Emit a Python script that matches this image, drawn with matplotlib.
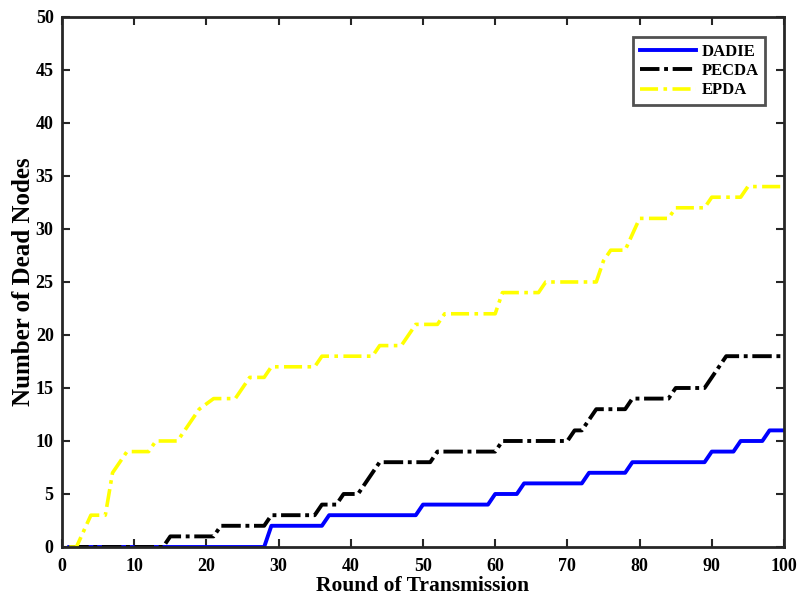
import matplotlib.pyplot as plt  # For plotting graph

# Corner points of each curve (round, dead nodes)
dadie_x = [1, 28, 29, 36, 37, 49, 50, 59, 60, 63, 64, 72, 73, 78, 79, 89, 90, 93, 94, 97, 98, 100]
dadie_y = [0, 0, 2, 2, 3, 3, 4, 4, 5, 5, 6, 6, 7, 7, 8, 8, 9, 9, 10, 10, 11, 11]

pecda_x = [1, 14, 15, 21, 22, 28, 29, 35, 36, 38, 39, 41, 44, 51, 52, 60, 61, 70, 71, 72, 74, 78, 79,
           84, 85, 89, 92, 100]
pecda_y = [0, 0, 1, 1, 2, 2, 3, 3, 4, 4, 5, 5, 8, 8, 9, 9, 10, 10, 11, 11, 13, 13, 14,
           14, 15, 15, 18, 18]

epda_x = [1, 2, 4, 6, 7, 9, 12, 13, 16, 19, 21, 24, 26, 28, 29, 35, 36, 43, 44, 47, 49, 52, 53, 60,
          61, 66, 67, 74, 75, 76, 78, 80, 84, 85, 89, 90, 94, 95, 100]
epda_y = [0, 0, 3, 3, 7, 9, 9, 10, 10, 13, 14, 14, 16, 16, 17, 17, 18, 18, 19, 19, 21, 21, 22, 22,
          24, 24, 25, 25, 27, 28, 28, 31, 31, 32, 32, 33, 33, 34, 34]

x_ticks = list(range(0, 101, 10))
y_ticks = list(range(0, 51, 5))

plt.rcParams['font.family'] = ['Liberation Serif', 'DejaVu Serif']
plt.rcParams['font.weight'] = 'bold'

fig = plt.figure(figsize=(7.99, 5.98), dpi=100)
ax = fig.add_axes([0.0776, 0.0853, 0.9036, 0.8863])

ax.plot(dadie_x, dadie_y, color='#0000ff', linewidth=2.8, label='DADIE')
ax.plot(pecda_x, pecda_y, color='black', linewidth=2.8, linestyle=(0, (5, 1.2, 1, 1.2)), label='PECDA')
ax.plot(epda_x, epda_y, color='#ffff00', linewidth=2.6, linestyle=(0, (5, 1.5, 1, 1.5)), label='EPDA')

ax.set_xlim(0, 100)
ax.set_ylim(0, 50)
ax.set_xticks(x_ticks)
ax.set_yticks(y_ticks)
ax.tick_params(direction='in', length=6, width=1.5, top=True, right=True, labelsize=13,
               colors='#262626', labelcolor='black')
ax.tick_params(axis='x', pad=8)
ax.tick_params(axis='y', pad=6)
for s in ax.spines.values():
    s.set_linewidth(2)
    s.set_color('#262626')

ax.set_xlabel('Round of Transmission', fontsize=15.5, fontweight='bold', labelpad=0.5)
ax.set_ylabel('Number of Dead Nodes', fontsize=18, fontweight='bold', labelpad=0.5)

leg = ax.legend(loc='upper right', bbox_to_anchor=(0.974, 0.962), borderaxespad=0, fontsize=12,
                handlelength=3.4, frameon=True, fancybox=False, borderpad=0.4, labelspacing=0.2,
                handletextpad=0.3)
leg.get_frame().set_edgecolor('#262626')
leg.get_frame().set_linewidth(2)
for t in leg.get_texts():
    t.set_fontweight('bold')

fig.savefig('out.png', dpi=100, facecolor='white')
